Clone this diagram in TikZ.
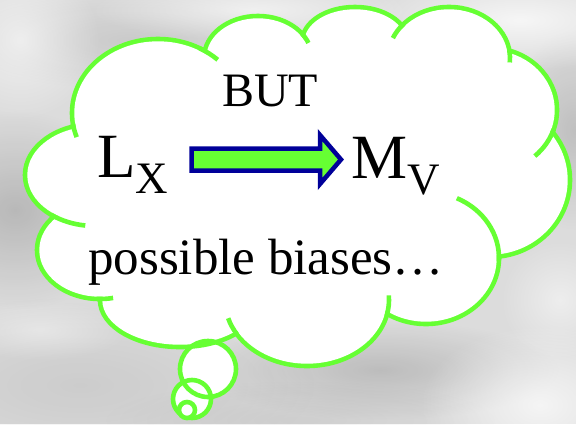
\documentclass[tikz,border=0pt]{standalone}
\usepackage{fontspec}
\setmainfont{Liberation Serif}
\usetikzlibrary{fadings}

\definecolor{cloudgreen}{RGB}{102,255,51}
\definecolor{arrowblue}{RGB}{0,0,153}
\definecolor{bgbase}{RGB}{220,220,220}
\tikzfading[name=softblob, inner color=transparent!0, outer color=transparent!100]

\newcommand{\lowsub}[1]{\lower16pt\hbox{\fontsize{45}{45}\selectfont #1}}
% lobes of the cloud: centre x / centre y / x radius / y radius
\def\lobes{158/113/86/74, 258/58/54/42, 355/42/53/35, 449/58/61/51, 490/110/67/62,
  490/180/80/77, 426/258/73/66, 307/300/82/66, 180/300/80/47, 100/250/63/49, 95/175/70/51}

\begin{document}
\begin{tikzpicture}[x=1pt, y=-1pt,
		cloudline/.style={draw=cloudgreen, line width=4.6pt},
		bubble/.style={draw=cloudgreen, line width=4.6pt},
		blockarrow/.style={draw=arrowblue, fill=cloudgreen, line width=4.5pt, miter limit=10},
		every node/.style={inner sep=0pt, text=black}
		]
		\useasboundingbox (0,0) rectangle (576,424);
		\clip (0,0) rectangle (576,424);
		
		% marbled background
		\fill[bgbase] (0,0) rectangle (576,424);
		\foreach \bx/\by/\ba/\bb/\bc/\bo in {15/210/120/100/black/.16, 575/130/70/100/black/.13,
			380/370/180/50/black/.14, 80/385/240/90/black/.07, 130/40/180/50/black/.08,
			300/420/200/40/black/.06, 540/405/120/80/white/.7, 520/20/160/50/white/.75,
			20/40/80/80/white/.6, 250/10/160/30/white/.6, 40/330/90/30/white/.4, 560/300/60/60/white/.5}
			\fill[\bc, fill opacity=\bo, path fading=softblob] (\bx,\by) ellipse [x radius=\ba, y radius=\bb];
		
		% thought bubbles, inside first
		\fill[white] (208,369) circle [radius=28];
		\fill[white] (192,399) circle [radius=19];
		
		% cloud: outline of the lobes, then the inside
		\foreach \cx/\cy/\rx/\ry in \lobes
			\draw[cloudgreen, line width=9.2pt] (\cx,\cy) ellipse [x radius=\rx-2.3, y radius=\ry-2.3];
		\fill[white] (85,130) -- (207,60) -- (304,45) -- (400,38) -- (500,65) -- (540,135) -- (490,250)
			-- (385,300) -- (235,320) -- (108,290) -- (65,218) -- cycle;
		\foreach \cx/\cy/\rx/\ry in \lobes
			\fill[white] (\cx,\cy) ellipse [x radius=\rx-2.3, y radius=\ry-2.3];
		
		% short inner strokes where lobes meet
		\foreach \cx/\cy/\rx/\ry/\ta/\tb in {158/113/86/74/172/161, 158/113/86/74/-61/-46,
			258/58/54/42/-36/-21, 449/58/61/51/222/203, 449/58/61/51/-8/5, 490/110/67/62/18/48,
			426/258/73/66/3/-65, 307/300/82/66/14/-4, 307/300/82/66/149/164,
			100/250/63/49/93/78, 95/175/70/51/129/98}
			\draw[cloudline] (\cx,\cy) ++(\ta:{\rx} and {\ry}) arc[start angle=\ta, end angle=\tb, x radius=\rx, y radius=\ry];
		
		\draw[bubble] (208,369) circle [radius=28];
		\draw[bubble] (192,399) circle [radius=19];
		\draw[bubble, fill=white] (187,410) circle [radius=8];
		
		% texts
		\node[anchor=base west, font=\fontsize{48}{48}\selectfont] (but) at (222,106) {BUT};
		\node[anchor=base west, font=\fontsize{63}{63}\selectfont] (lx) at (97,177) {L\lowsub{X}};
		\node[anchor=base west, font=\fontsize{63}{63}\selectfont] (mv) at (351,178) {M\lowsub{V}};
		\node[anchor=base west, font=\fontsize{51}{51}\selectfont] (biases) at (88,274) {possible biases…};
		
		\coordinate (arrowtail) at (191.5,159.5);
		\coordinate (arrowtip) at (341,159.5);
		\draw[blockarrow] (arrowtail) ++(0,-11) -- ++(128.5,0) -- ++(0,-13.5) -- (arrowtip)
			-- ++(-21,24.5) -- ++(0,-13.5) -- ++(-128.5,0) -- cycle;
	\end{tikzpicture}
\end{document}
